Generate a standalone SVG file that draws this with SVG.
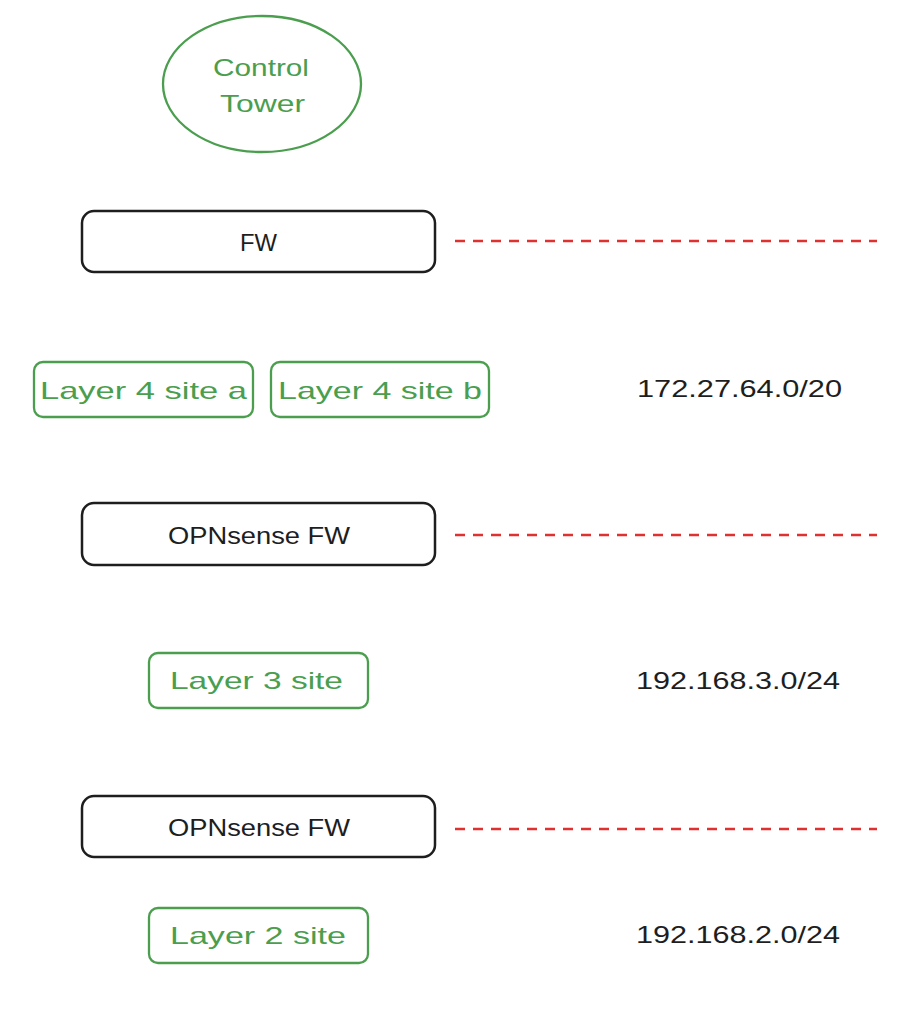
<svg xmlns="http://www.w3.org/2000/svg" width="919" height="1024" viewBox="0 0 919 1024">
<style>
.bg{fill:#ffffff}
.box{fill:none;stroke:#1e1e1e;stroke-width:2.5}
.gbox{fill:none;stroke:#4a9e4e;stroke-width:2.3}
.dash{fill:none;stroke:#e03131;stroke-width:2.6;stroke-dasharray:10 8}
.t{font-family:"Liberation Sans","DejaVu Sans",sans-serif;font-size:24px;fill:#1e1e1e}
.g{fill:#4a9e4e}
</style>
<rect class="bg" x="0" y="0" width="919" height="1024"/>
<g id="control-tower">
<ellipse class="gbox" cx="262" cy="84" rx="99" ry="68"/>
<text class="t g" x="213" y="76" textLength="96" lengthAdjust="spacingAndGlyphs">Control</text>
<text class="t g" x="220" y="112" textLength="85" lengthAdjust="spacingAndGlyphs">Tower</text>
</g>
<g id="fw1">
<rect class="box" x="82" y="211" width="353" height="61" rx="12"/>
<text class="t" x="240" y="251" textLength="37" lengthAdjust="spacingAndGlyphs">FW</text>
</g>
<g id="l4a">
<rect class="gbox" x="34" y="362" width="219" height="55" rx="9"/>
<text class="t g" x="40" y="399" textLength="207" lengthAdjust="spacingAndGlyphs">Layer 4 site a</text>
</g>
<g id="l4b">
<rect class="gbox" x="271" y="362" width="218" height="55" rx="9"/>
<text class="t g" x="278" y="399" textLength="204" lengthAdjust="spacingAndGlyphs">Layer 4 site b</text>
</g>
<g id="ip1">
<text class="t" x="637" y="397" textLength="205" lengthAdjust="spacingAndGlyphs">172.27.64.0/20</text>
</g>
<g id="fw2">
<rect class="box" x="82" y="503" width="353" height="62" rx="12"/>
<text class="t" x="168" y="544" textLength="182" lengthAdjust="spacingAndGlyphs">OPNsense FW</text>
</g>
<g id="l3">
<rect class="gbox" x="149" y="653" width="219" height="55" rx="9"/>
<text class="t g" x="170" y="689" textLength="173" lengthAdjust="spacingAndGlyphs">Layer 3 site</text>
</g>
<g id="ip2">
<text class="t" x="636" y="689" textLength="204" lengthAdjust="spacingAndGlyphs">192.168.3.0/24</text>
</g>
<g id="fw3">
<rect class="box" x="82" y="796" width="353" height="61" rx="12"/>
<text class="t" x="168" y="836" textLength="182" lengthAdjust="spacingAndGlyphs">OPNsense FW</text>
</g>
<g id="l2">
<rect class="gbox" x="149" y="908" width="219" height="55" rx="9"/>
<text class="t g" x="170" y="944" textLength="176" lengthAdjust="spacingAndGlyphs">Layer 2 site</text>
</g>
<g id="ip3">
<text class="t" x="636" y="943" textLength="204" lengthAdjust="spacingAndGlyphs">192.168.2.0/24</text>
</g>
<g id="connectors">
<line class="dash" x1="455" y1="241" x2="877" y2="241"/>
<line class="dash" x1="455" y1="535" x2="877" y2="535"/>
<line class="dash" x1="455" y1="829" x2="877" y2="829"/>
</g>
</svg>
